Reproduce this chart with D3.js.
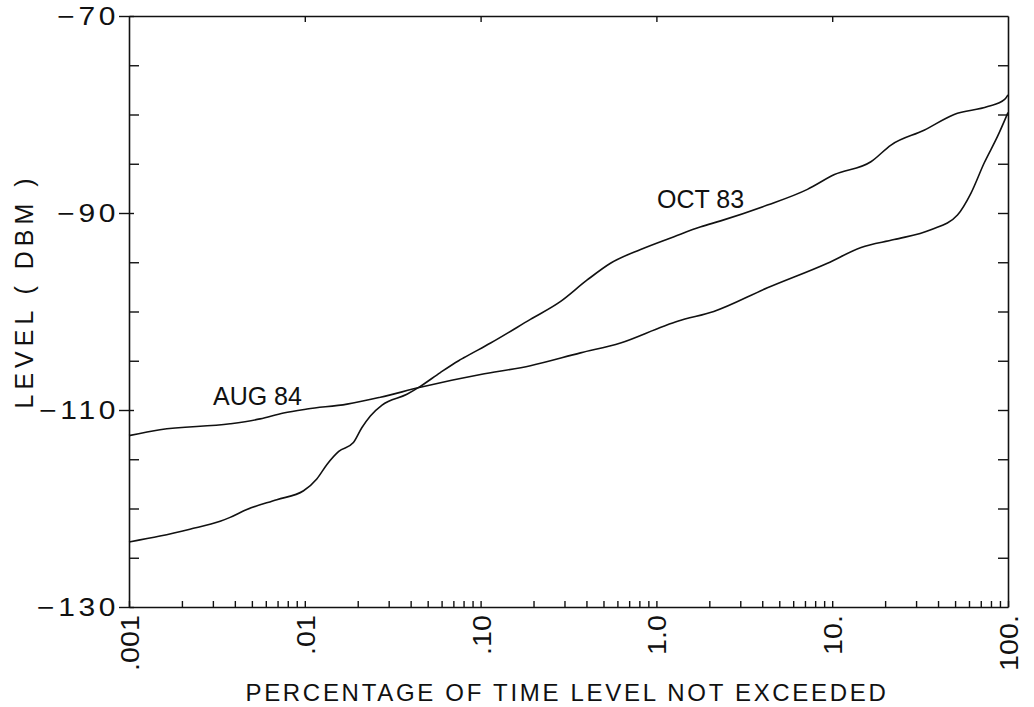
<!DOCTYPE html>
<html>
<head>
<meta charset="utf-8">
<script src="https://cdn.jsdelivr.net/npm/d3@7"></script>
<style>
  body { margin: 0; background: #fff; }
  svg { display: block; }
  text { font-family: "Liberation Sans", Arial, Helvetica, sans-serif; fill: #111; }
</style>
</head>
<body>
<svg id="chart" width="1034" height="707"></svg>
<script>
// Axis ticks and labels
const xTickValues = [0.001, 0.01, 0.1, 1, 10, 100];
const xTickLabels = [".001", ".01", ".10", "1.0", "10.", "100."];
const yTickValues = [-70, -90, -110, -130];
const yTickLabels = ["\u221270", "\u221290", "\u2212110", "\u2212130"];
const yMinorValues = [-75, -80, -85, -95, -100, -105, -115, -120, -125];

// Cumulative distributions: percentage of time level not exceeded vs level (dBm)
const oct83Pct = [0.001, 0.0015, 0.00222, 0.0033, 0.00376, 0.00468, 0.00693, 0.00984, 0.0117, 0.0134,
  0.0156, 0.0189, 0.0211, 0.0236, 0.0275, 0.0381, 0.0454, 0.059, 0.075, 0.0802,
  0.114, 0.192, 0.284, 0.404, 0.548, 0.813, 1.26, 1.79, 2.32, 4.28,
  7.23, 10.3, 16.6, 21.6, 33.3, 49.4, 76.6, 95.3, 100];
const oct83Level = [-123.4, -122.8, -122.1, -121.3, -120.9, -120.1, -119.1, -118.2, -117.0, -115.5,
  -114.2, -113.3, -111.8, -110.6, -109.5, -108.4, -107.6, -106.2, -105.0, -104.7,
  -103.2, -100.8, -99.0, -96.8, -95.1, -93.7, -92.4, -91.4, -90.8, -89.2,
  -87.6, -86.1, -84.8, -83.1, -81.6, -80.0, -79.2, -78.5, -78.0];

const aug84Pct = [0.001, 0.0015, 0.00376, 0.00557, 0.00757, 0.0103, 0.0174, 0.0269, 0.0454, 0.0767,
  0.1, 0.192, 0.37, 0.625, 1.10, 1.32, 2.12, 4.28, 9.4, 14.6,
  22.5, 36.4, 51.6, 61.5, 73.3, 87.3, 100];
const aug84Level = [-112.6, -112.0, -111.4, -110.9, -110.3, -109.9, -109.4, -108.7, -107.7, -106.8,
  -106.4, -105.5, -104.2, -103.2, -101.5, -101.0, -100.0, -97.6, -95.1, -93.5,
  -92.7, -91.7, -90.2, -88.0, -84.9, -82.2, -79.8];

const seriesNames = ["OCT 83", "AUG 84"];
const xTitle = "PERCENTAGE OF TIME LEVEL NOT EXCEEDED";
const yTitle = "LEVEL ( DBM )";

const svg = d3.select("#chart");
const plotLeft = 129, plotRight = 1008, plotTop = 16, plotBottom = 607;

const x = d3.scaleLog().domain([0.001, 100]).range([plotLeft, plotRight]);
const y = d3.scaleLinear().domain([-130, -70]).range([plotBottom, plotTop]);

const ink = "#111";

// Minor log ticks 1..9 in every decade, pointing up from the bottom frame
const xMinor = [];
for (let e = -3; e <= 1; e++) for (let m = 1; m <= 9; m++) xMinor.push(m * Math.pow(10, e));
xMinor.push(100);

const gB = svg.append("g").attr("transform", `translate(0,${plotBottom})`)
  .call(d3.axisBottom(x).tickValues(xMinor).tickSize(-6).tickSizeOuter(0).tickFormat(""));
const gT = svg.append("g").attr("transform", `translate(0,${plotTop})`)
  .call(d3.axisTop(x).tickValues(xTickValues.slice(1, -1)).tickSize(-6).tickSizeOuter(0).tickFormat(""));
const gL = svg.append("g").attr("transform", `translate(${plotLeft},0)`)
  .call(d3.axisLeft(y).tickValues(yMinorValues).tickSize(-10).tickSizeOuter(0).tickFormat(""));
const gR = svg.append("g").attr("transform", `translate(${plotRight},0)`)
  .call(d3.axisRight(y).tickValues(yMinorValues.concat([-90, -110])).tickSize(-10).tickSizeOuter(0).tickFormat(""));
// Major level ticks cross the left frame
const gLM = svg.append("g").attr("transform", `translate(${plotLeft},0)`)
  .call(d3.axisLeft(y).tickValues(yTickValues).tickSize(10).tickSizeOuter(0).tickFormat(""));
gLM.selectAll(".tick line").attr("x2", -10).attr("x1", 5);
gLM.select(".domain").remove();

[gB, gT, gL, gR, gLM].forEach(g => {
  g.selectAll("path.domain").attr("stroke", ink).attr("stroke-width", 1.6);
  g.selectAll(".tick line").attr("stroke", ink).attr("stroke-width", 1.4);
});

// Level tick labels (wide, letter-spaced digits)
svg.append("g").selectAll("text").data(yTickValues).join("text")
  .attr("transform", d => `translate(119,${y(d) + 9}) scale(1.2,1)`)
  .attr("text-anchor", "end")
  .style("font-size", "25px")
  .style("letter-spacing", "3px")
  .text((d, i) => yTickLabels[i]);

// Percentage tick labels, rotated
svg.append("g").selectAll("text").data(xTickValues).join("text")
  .attr("transform", d => `translate(${x(d) + 10},615) rotate(-90) scale(1.15,1)`)
  .attr("text-anchor", "end")
  .style("font-size", "25px")
  .text((d, i) => xTickLabels[i]);

// Axis titles
svg.append("text")
  .attr("x", 567).attr("y", 701)
  .attr("text-anchor", "middle")
  .style("font-size", "24px")
  .style("letter-spacing", "2.7px")
  .text(xTitle);

svg.append("text")
  .attr("transform", "translate(33,291) rotate(-90)")
  .attr("text-anchor", "middle")
  .style("font-size", "25px")
  .style("letter-spacing", "5px")
  .style("white-space", "pre")
  .text(yTitle);

// Curves
const line = d3.line()
  .x(d => x(d[0]))
  .y(d => y(d[1]))
  .curve(d3.curveMonotoneX);

const series = [
  { name: seriesNames[0], pct: oct83Pct, level: oct83Level },
  { name: seriesNames[1], pct: aug84Pct, level: aug84Level }
];

svg.append("g").selectAll("path").data(series).join("path")
  .attr("d", s => line(s.pct.map((p, i) => [p, s.level[i]])))
  .attr("fill", "none")
  .attr("stroke", ink)
  .attr("stroke-width", 1.6)
  .attr("stroke-linejoin", "round");

// Series labels
svg.append("text").attr("x", 657).attr("y", 208).style("font-size", "25px").text(seriesNames[0]);
svg.append("text").attr("x", 213).attr("y", 405).style("font-size", "25px").text(seriesNames[1]);
</script>
</body>
</html>
